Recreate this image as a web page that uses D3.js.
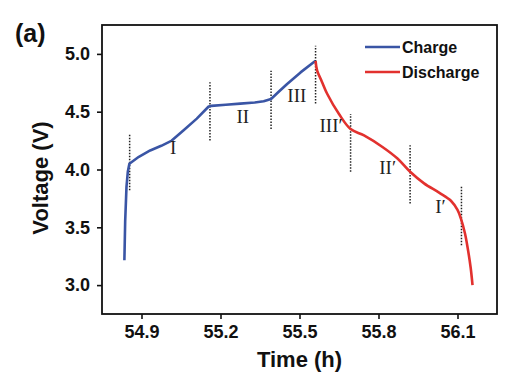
<!DOCTYPE html>
<html>
<head>
<meta charset="utf-8">
<script src="https://cdn.jsdelivr.net/npm/d3@7"></script>
<style>
  body { margin: 0; background: #ffffff; }
  svg { display: block; font-family: Arial, "Liberation Sans", sans-serif; }
</style>
</head>
<body>
<script>
// charge curve (time h, voltage V)
const chargeT = [54.835, 54.838, 54.843, 54.848, 54.854, 54.89, 54.933, 54.975, 55.015, 55.06, 55.11, 55.155, 55.165, 55.22, 55.275, 55.33, 55.364, 55.392, 55.42, 55.453, 55.504, 55.561];
const chargeV = [3.215, 3.55, 3.85, 3.98, 4.05, 4.11, 4.165, 4.205, 4.25, 4.34, 4.44, 4.545, 4.55, 4.56, 4.57, 4.58, 4.59, 4.61, 4.67, 4.74, 4.84, 4.94];
// discharge curve
const dischT = [55.561, 55.567, 55.585, 55.605, 55.65, 55.694, 55.745, 55.815, 55.872, 55.92, 55.973, 56.03, 56.075, 56.1, 56.113, 56.128, 56.138, 56.15, 56.157];
const dischV = [4.94, 4.855, 4.76, 4.655, 4.48, 4.35, 4.295, 4.195, 4.095, 3.98, 3.88, 3.8, 3.73, 3.65, 3.575, 3.45, 3.33, 3.15, 3.0];
// dotted stage boundaries: time, low V, high V
const divT = [54.855, 55.16, 55.392, 55.561, 55.694, 55.92, 56.115];
const divLo = [3.82, 4.25, 4.35, 4.57, 3.98, 3.705, 3.345];
const divHi = [4.30, 4.755, 4.855, 5.07, 4.48, 4.21, 3.85];
// stage labels
const stageText = ["I", "II", "III", "III\u2032", "II\u2032", "I\u2032"];
const stageT = [55.02, 55.285, 55.49, 55.62, 55.835, 56.035];
const stageV = [4.17, 4.44, 4.62, 4.36, 4.0, 3.66];

const xTicks = [54.9, 55.2, 55.5, 55.8, 56.1];
const yTicks = [3.0, 3.5, 4.0, 4.5, 5.0];

const W = 530, H = 386;
const m = { left: 102, right: 33, top: 25, bottom: 72 };

const svg = d3.select("body").append("svg").attr("width", W).attr("height", H);

const x = d3.scaleLinear().domain([54.75, 56.25]).range([m.left, W - m.right]);
const y = d3.scaleLinear().domain([2.75, 5.25]).range([H - m.bottom, m.top]);

// frame
svg.append("rect")
  .attr("x", m.left).attr("y", m.top)
  .attr("width", W - m.right - m.left).attr("height", H - m.bottom - m.top)
  .attr("fill", "none").attr("stroke", "#111").attr("stroke-width", 1.8);

// axes with major + minor ticks
const gx = svg.append("g").attr("transform", "translate(0," + (H - m.bottom) + ")");
gx.call(d3.axisBottom(x).tickValues(d3.range(54.75, 56.26, 0.15)).tickSize(3).tickFormat(""));
gx.call(d3.axisBottom(x).tickValues(xTicks).tickSize(5).tickPadding(6).tickFormat(d3.format(".1f")));
gx.selectAll(".domain").remove();
gx.selectAll("line").attr("stroke", "#111").attr("stroke-width", 1.6);
gx.selectAll("text").attr("font-size", 18).attr("font-weight", "bold").attr("fill", "#111");

const gy = svg.append("g").attr("transform", "translate(" + m.left + ",0)");
gy.call(d3.axisLeft(y).tickValues(d3.range(2.75, 5.26, 0.25)).tickSize(3).tickFormat(""));
gy.call(d3.axisLeft(y).tickValues(yTicks).tickSize(5).tickPadding(7).tickFormat(d3.format(".1f")));
gy.selectAll(".domain").remove();
gy.selectAll("line").attr("stroke", "#111").attr("stroke-width", 1.6);
gy.selectAll("text").attr("font-size", 18).attr("font-weight", "bold").attr("fill", "#111");

// axis titles
svg.append("text")
  .attr("x", x(55.5)).attr("y", 367)
  .attr("text-anchor", "middle").attr("font-size", 22).attr("font-weight", "bold").attr("fill", "#111")
  .text("Time (h)");
svg.append("text")
  .attr("transform", "translate(48," + 178 + ") rotate(-90)")
  .attr("text-anchor", "middle").attr("font-size", 22).attr("font-weight", "bold").attr("fill", "#111")
  .text("Voltage (V)");
svg.append("text")
  .attr("x", 15).attr("y", 42)
  .attr("font-size", 25).attr("font-weight", "bold").attr("fill", "#111")
  .text("(a)");

// dotted dividers
divT.forEach(function (t, i) {
  svg.append("line")
    .attr("x1", x(t)).attr("x2", x(t))
    .attr("y1", y(divLo[i])).attr("y2", y(divHi[i]))
    .attr("stroke", "#222").attr("stroke-width", 1.5)
    .attr("stroke-dasharray", "1.5,1.5");
});

// curves
const chargeData = chargeT.map((t, i) => [t, chargeV[i]]);
const dischData = dischT.map((t, i) => [t, dischV[i]]);
svg.append("path").datum(chargeData)
  .attr("d", d3.line().x(d => x(d[0])).y(d => y(d[1])).curve(d3.curveLinear))
  .attr("fill", "none").attr("stroke", "#3a55a5").attr("stroke-width", 2.6).attr("stroke-linejoin", "round");
svg.append("path").datum(dischData)
  .attr("d", d3.line().x(d => x(d[0])).y(d => y(d[1])).curve(d3.curveCatmullRom))
  .attr("fill", "none").attr("stroke", "#e2312e").attr("stroke-width", 2.6).attr("stroke-linejoin", "round");

// stage labels
stageText.forEach(function (s, i) {
  svg.append("text")
    .attr("x", x(stageT[i])).attr("y", y(stageV[i]))
    .attr("text-anchor", "middle").attr("dominant-baseline", "middle")
    .attr("font-family", "'Liberation Serif', 'DejaVu Serif', serif")
    .attr("font-size", 19).attr("fill", "#222")
    .text(s);
});

// legend
const legend = [["Charge", "#3a55a5"], ["Discharge", "#e2312e"]];
legend.forEach(function (d, i) {
  const ly = 47 + i * 25;
  svg.append("line").attr("x1", 365).attr("x2", 400).attr("y1", ly).attr("y2", ly)
    .attr("stroke", d[1]).attr("stroke-width", 2.6);
  svg.append("text").attr("x", 402).attr("y", ly + 6)
    .attr("font-size", 16).attr("font-weight", "bold").attr("fill", "#111")
    .text(d[0]);
});
</script>
</body>
</html>
